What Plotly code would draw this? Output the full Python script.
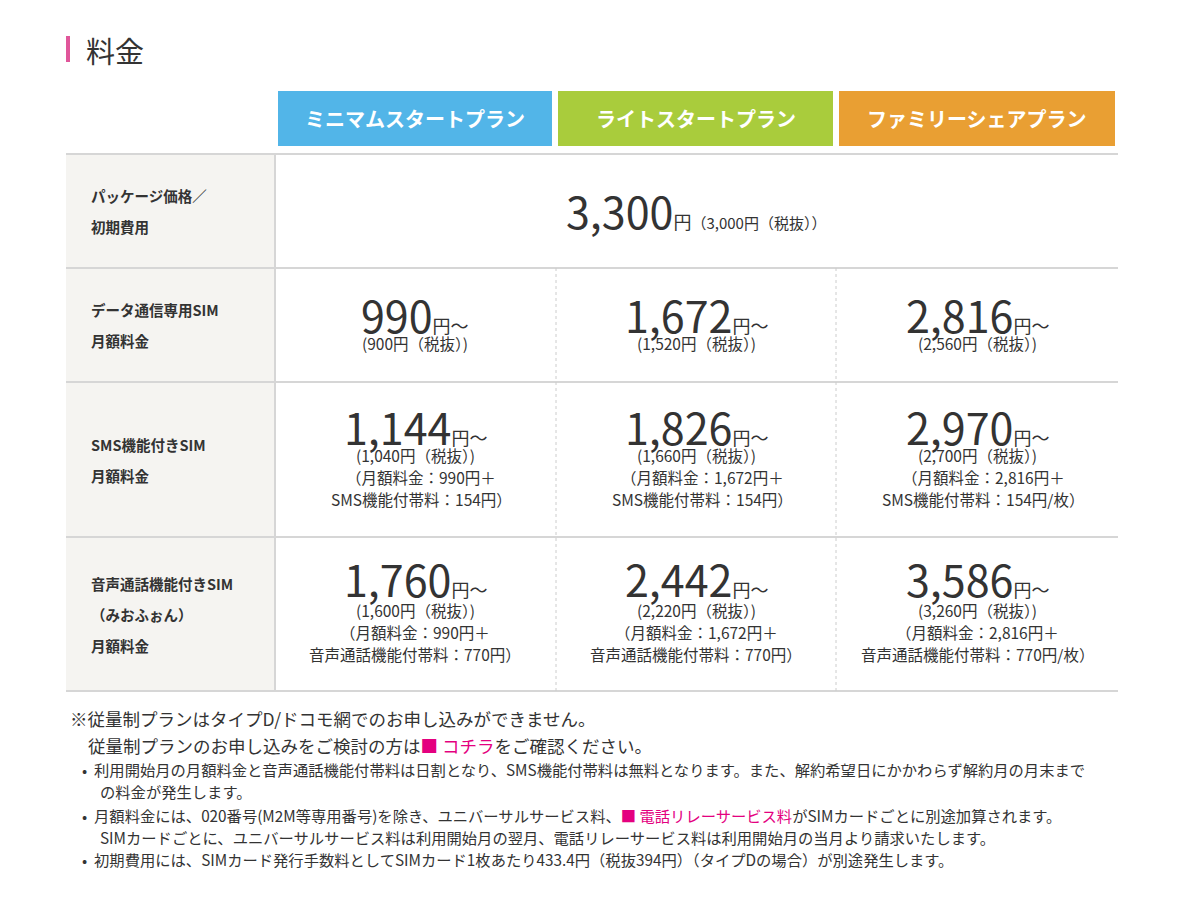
import plotly.graph_objects as go

plans = ["ミニマムスタートプラン", "ライトスタートプラン", "ファミリーシェアプラン"]
plan_colors = ["#52b5e8", "#a9cc3c", "#e99f33"]
row_labels = [["パッケージ価格／", "初期費用"], ["データ通信専用SIM", "月額料金"],
              ["SMS機能付きSIM", "月額料金"], ["音声通話機能付きSIM", "（みおふぉん）", "月額料金"]]
package_price = "3,300"
package_note = "（3,000円（税抜））"
data_price = ["990", "1,672", "2,816"]
data_tax = ["(900円（税抜）)", "(1,520円（税抜）)", "(2,560円（税抜）)"]
sms_price = ["1,144", "1,826", "2,970"]
sms_notes = [["(1,040円（税抜）)", "（月額料金：990円＋", "SMS機能付帯料：154円）"],
             ["(1,660円（税抜）)", "（月額料金：1,672円＋", "SMS機能付帯料：154円）"],
             ["(2,700円（税抜）)", "（月額料金：2,816円＋", "SMS機能付帯料：154円/枚）"]]
voice_price = ["1,760", "2,442", "3,586"]
voice_notes = [["(1,600円（税抜）)", "（月額料金：990円＋", "音声通話機能付帯料：770円）"],
               ["(2,220円（税抜）)", "（月額料金：1,672円＋", "音声通話機能付帯料：770円）"],
               ["(3,260円（税抜）)", "（月額料金：2,816円＋", "音声通話機能付帯料：770円/枚）"]]
PK = "<span style='color:#e4007f'>■</span>"
footer = [
    ("※従量制プランはタイプD/ドコモ網でのお申し込みができません。", 17.5, 68),
    ("従量制プランのお申し込みをご検討の方は" + PK + " <span style='color:#e4007f'>コチラ</span>をご確認ください。", 17.5, 86),
    ("•  利用開始月の月額料金と音声通話機能付帯料は日割となり、SMS機能付帯料は無料となります。また、解約希望日にかかわらず解約月の月末まで", 15.3, 80),
    ("の料金が発生します。", 15.3, 98),
    ("•  月額料金には、020番号(M2M等専用番号)を除き、ユニバーサルサービス料、" + PK + " <span style='color:#e4007f'>電話リレーサービス料</span>がSIMカードごとに別途加算されます。", 15.3, 80),
    ("SIMカードごとに、ユニバーサルサービス料は利用開始月の翌月、電話リレーサービス料は利用開始月の当月より請求いたします。", 15.3, 98),
    ("•  初期費用には、SIMカード発行手数料としてSIMカード1枚あたり433.4円（税抜394円）（タイプDの場合）が別途発生します。", 15.3, 80),
]

FONT = "Noto Sans CJK JP"
TXT = "#333333"
fig = go.Figure()
shapes, ann = [], []

def A(x, y, text, size, color=TXT, xanchor="center", bold=False):
    if bold:
        text = "<b>" + text + "</b>"
    ann.append(dict(x=x, y=y, text=text, showarrow=False, xanchor=xanchor, yanchor="middle",
                    font=dict(family=FONT, size=size, color=color)))

def price(x, y, p):
    A(x, y, f"<span style='font-size:43px'>{p}</span><span style='font-size:18px'>円〜</span>", 43)

shapes.append(dict(type="rect", x0=66, x1=70, y0=36, y1=62, fillcolor="#e0569a", line_width=0))
A(84, 50, "料金", 29, xanchor="left")

col_x = [(278, 552), (558, 833), (839, 1115)]
for (x0, x1), name, c in zip(col_x, plans, plan_colors):
    shapes.append(dict(type="rect", x0=x0, x1=x1, y0=91, y1=146, fillcolor=c, line_width=0,
                       layer="below"))
    A((x0 + x1) / 2, 118, name, 20, color="white", bold=True)

row_y = [154, 268, 382, 537, 691]
shapes.append(dict(type="rect", x0=66, x1=275, y0=154, y1=691, fillcolor="#f5f4f1", line_width=0, layer="below"))
for y in row_y:
    shapes.append(dict(type="line", x0=66, x1=1118, y0=y, y1=y, line=dict(color="#d6d6d6", width=2)))
shapes.append(dict(type="line", x0=275, x1=275, y0=154, y1=691, line=dict(color="#d6d6d6", width=2)))
for x in (556, 836):
    shapes.append(dict(type="line", x0=x, x1=x, y0=268, y1=691, line=dict(color="#cccccc", width=1, dash="dot")))

for i, labels in enumerate(row_labels):
    yc = (row_y[i] + row_y[i + 1]) / 2
    n = len(labels)
    for j, t in enumerate(labels):
        A(89, yc + (j - (n - 1) / 2) * 31, t, 14.5, xanchor="left", bold=True)

A(696, 210, f"<span style='font-size:43px'>{package_price}</span><span style='font-size:18px'>円</span><span style='font-size:15px'>{package_note}</span>", 43)

cx = [415, 696, 977]
for k in range(3):
    price(cx[k], 314, data_price[k])
    A(cx[k], 343, data_tax[k], 15.5)
    price(cx[k], 426, sms_price[k])
    for j, t in enumerate(sms_notes[k]):
        A(cx[k] + (6 if j else 0), 455 + j * 22, t, 15.5)
    price(cx[k], 578, voice_price[k])
    for j, t in enumerate(voice_notes[k]):
        A(cx[k], 610 + j * 22, t, 15.5)

fy = [718, 745, 769, 791, 815, 837, 859]
for (t, s, x), y in zip(footer, fy):
    A(x, y, t, s, xanchor="left")

# page body has an 8px margin; offset the axis ranges so coordinates match the window
fig.update_layout(width=1200, height=900, margin=dict(l=0, r=0, t=0, b=0),
                  paper_bgcolor="white", plot_bgcolor="white", shapes=shapes, annotations=ann,
                  xaxis=dict(range=[8, 1208], visible=False, fixedrange=True),
                  yaxis=dict(range=[908, 8], visible=False, fixedrange=True), showlegend=False)
fig.write_html("out.html")
